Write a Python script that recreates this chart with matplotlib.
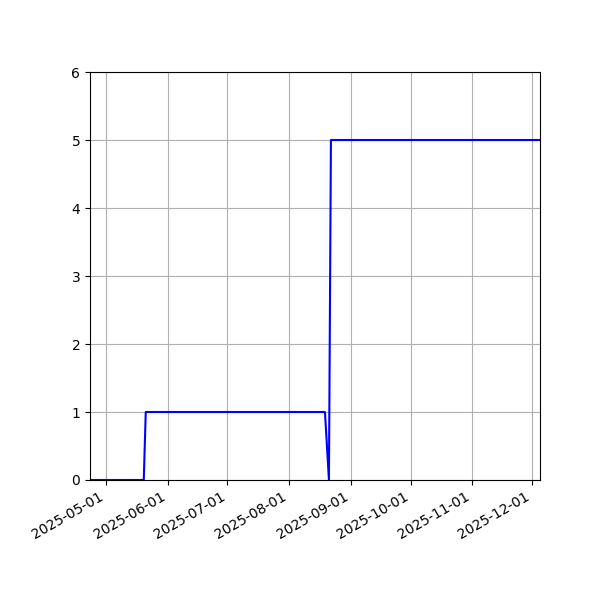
import pandas as pd
import matplotlib
matplotlib.use('Agg')
import matplotlib.pyplot as plt
import matplotlib.dates as mdates

# breakpoints of the series
dates = ['2025-04-23', '2025-05-20', '2025-05-21', '2025-08-19',
         '2025-08-21', '2025-08-22', '2025-12-05']
values = [0, 0, 1, 1, 0, 5, 5]

df = pd.DataFrame({'date': pd.to_datetime(dates), 'value': values})

fig, ax = plt.subplots(figsize=(6, 6), dpi=100)
ax.plot(df['date'], df['value'], color='b')
ax.set_xlim(df['date'].iloc[0], df['date'].iloc[-1])
ax.set_ylim(0, 6)
ax.xaxis.set_major_locator(mdates.MonthLocator())
ax.xaxis.set_major_formatter(mdates.DateFormatter('%Y-%m-%d'))
ax.grid(True)
fig.autofmt_xdate()
plt.subplots_adjust(left=0.15, right=0.9, top=0.88, bottom=0.2)

plt.savefig('out.png')
